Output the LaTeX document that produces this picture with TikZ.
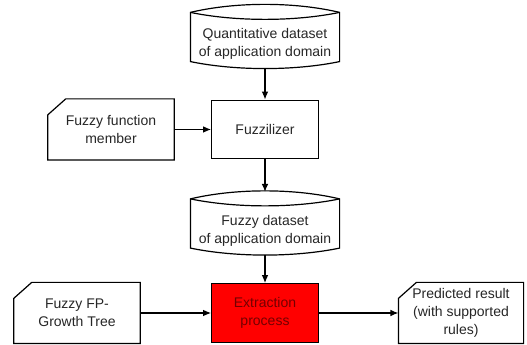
\documentclass[tikz,border=0pt]{standalone}
\usepackage{fontspec}
\setmainfont{Liberation Sans}
\usetikzlibrary{calc,arrows.meta}

\begin{document}
\begin{tikzpicture}[
        x=0.75pt,
        y=0.75pt,
        >={Latex[length=6pt,width=5pt]},
        line width=0.9pt,
        every node/.style={
          align=center,
          text=black!85,
          font=\fontsize{10.5}{13.5}\selectfont
        },
        box/.style={
          draw,
          minimum width=80pt,
          minimum height=44pt
        },
        store/.style={
          minimum width=111pt,
          minimum height=36pt
        },
        card/.style={
          minimum width=94pt,
          minimum height=45pt
        },
        link/.style={
          ->,
          line width=0.9pt
        }
      ]
        \useasboundingbox (0,0) rectangle (527,345);

        \node[store] (qd) at (265,301) {Quantitative dataset\\of application domain};
        \node[box] (fz) at (265,215.5) {Fuzzilizer};
        \node[card] (ffm) at (111,215.5) {Fuzzy function\\member};
        \node[store] (fd) at (265,114.5) {Fuzzy dataset\\of application domain};
        \node[box,fill=red,text=red!45!black] (ep) at (265,32) {Extraction\\process};
        \node[card] (fpg) at (77,32) {Fuzzy FP-\\Growth Tree};
        \node[card,minimum width=93pt] (pr) at (461,32) {Predicted result\\(with supported\\rules)};

        % data stores
        \foreach \n in {qd,fd} {
          \draw ($(\n.north west)+(0,7)$) .. controls +(45,10.7) and +(-45,10.7) .. ($(\n.north east)+(0,7)$)
            -- ($(\n.south east)+(0,7)$) .. controls +(-45,-9.3) and +(45,-9.3) .. ($(\n.south west)+(0,7)$) -- cycle;
          \draw ($(\n.north west)+(0,7)$) .. controls +(45,-9.3) and +(-45,-9.3) .. ($(\n.north east)+(0,7)$);
        }

        % cards with cut corner
        \foreach \n in {ffm,fpg,pr}
          \draw ($(\n.north west)+(0,-16)$) -- ($(\n.north west)+(18,0)$) -- (\n.north east)
            -- (\n.south east) -- (\n.south west) -- cycle;

        \draw[link] (qd) -- (fz);
        \draw[link] (ffm) -- (fz);
        \draw[link,shorten >=10.5pt] (fz) -- (fd);
        \draw[link] (fd) -- (ep);
        \draw[link] (fpg) -- (ep);
        \draw[link] (ep) -- (pr);
      \end{tikzpicture}
\end{document}
